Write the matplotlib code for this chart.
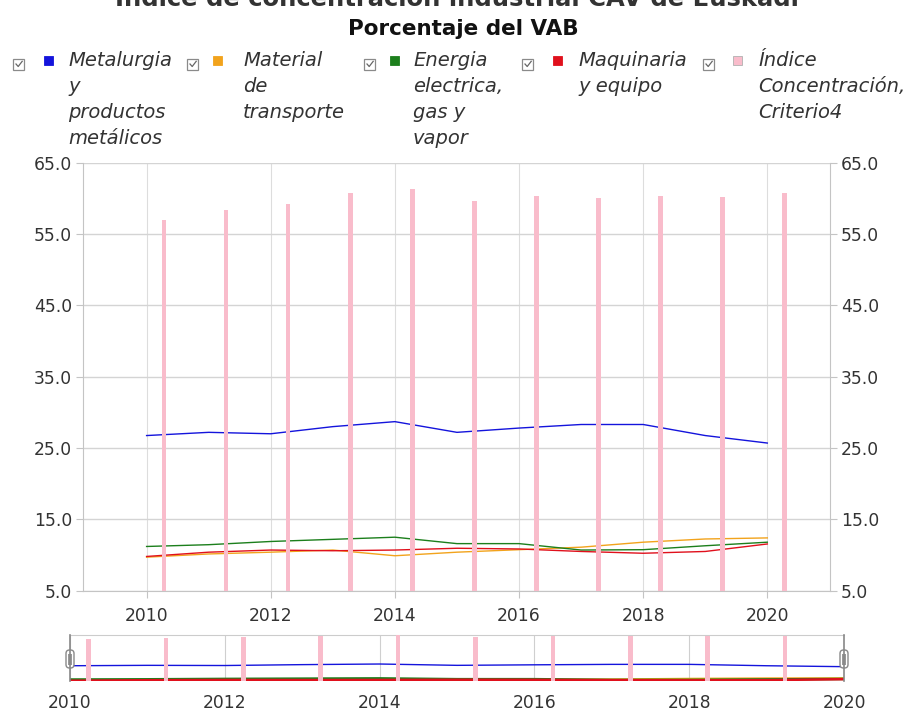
import numpy as np
import matplotlib
matplotlib.use('Agg')
import matplotlib.pyplot as plt
from matplotlib.patches import Rectangle, FancyBboxPatch
from matplotlib.ticker import FormatStrFormatter

# Data (porcentaje del VAB)
years = [2010, 2011, 2012, 2013, 2014, 2015, 2016, 2017, 2018, 2019, 2020]
metalurgia = [26.75, 27.2, 27.0, 28.0, 28.7, 27.2, 27.8, 28.3, 28.3, 26.75, 25.7]
transporte = [9.7, 10.15, 10.4, 10.7, 9.9, 10.4, 10.75, 11.1, 11.8, 12.25, 12.4]
energia = [11.2, 11.45, 11.9, 12.2, 12.5, 11.6, 11.6, 10.7, 10.75, 11.3, 11.8]
maquinaria = [9.8, 10.4, 10.7, 10.6, 10.7, 10.95, 10.85, 10.5, 10.25, 10.5, 11.55]
indice_c4 = [56.9, 58.4, 59.25, 60.8, 61.3, 59.6, 60.4, 60.1, 60.4, 60.2, 60.75]

legend_labels = ["Metalurgia\ny\nproductos\nmetálicos",
                 "Material\nde\ntransporte",
                 "Energia\nelectrica,\ngas y\nvapor",
                 "Maquinaria\ny equipo",
                 "Índice\nConcentración,\nCriterio4"]
colors = ['#1414dc', '#f2a31c', '#1c7f1c', '#e0101c', '#f9bccb']
line_series = [metalurgia, transporte, energia, maquinaria]

title_cut = "Índice de concentración industrial CAV de Euskadi"
title = "Porcentaje del VAB"

plt.rcParams['font.family'] = ['DejaVu Sans']
W, H = 912, 713
fig = plt.figure(figsize=(W / 100, H / 100), dpi=100)
fig.patch.set_facecolor('white')

# ---- main chart
ax = fig.add_axes([83.3 / W, 1 - 590.7 / H, (830 - 83.3) / W, (590.7 - 162.7) / H])
for s, c in zip(line_series, colors[:4]):
    ax.plot(years, s, color=c, lw=1.0, zorder=3)
ax.bar(np.array(years) + 0.28, indice_c4, width=0.075, bottom=0, color=colors[4], zorder=4)

ax.set_xlim(2008.98, 2021.01)
ax.set_ylim(5, 65)
ax.set_yticks(np.arange(5, 66, 10))
ax.yaxis.set_major_formatter(FormatStrFormatter('%.1f'))
ax.set_xticks(np.arange(2010, 2021, 2))
ax.yaxis.grid(True, color='#d4d4d4', lw=1.0)
ax.xaxis.grid(True, color='#dddddd', lw=0.8)
ax.set_axisbelow(True)
ax.tick_params(axis='y', left=True, right=True, labelleft=True, labelright=True,
               length=5, color='#c4c4c4', labelsize=12.3, labelcolor='#333333', pad=3)
ax.tick_params(axis='x', length=5, color='#c4c4c4', labelsize=12.3, labelcolor='#333333', pad=6.5)
ax.spines['top'].set_visible(False)
for sp in ['left', 'right', 'bottom']:
    ax.spines[sp].set_color('#c4c4c4')

# ---- navigator
nav = fig.add_axes([70 / W, 1 - 681 / H, 774 / W, 46 / H])
for s, c in zip(line_series, colors[:4]):
    nav.plot(years, s, color=c, lw=1.8 if c != colors[0] else 1.0, zorder=3)
nav.bar(np.array(years) + 0.24, indice_c4, width=0.06, bottom=0, color=colors[4], zorder=4)
nav.set_xlim(2010, 2020)
nav.set_ylim(9.5, 61.5)
nav.set_yticks([])
nav.set_xticks(np.arange(2010, 2021, 2))
nav.xaxis.grid(True, color='#cfcfcf', lw=0.8)
nav.set_axisbelow(True)
nav.tick_params(axis='x', length=0, labelsize=12.3, labelcolor='#333333', pad=9.5)
for sp in ['left', 'right', 'bottom']:
    nav.spines[sp].set_visible(False)
nav.spines['top'].set_color('#cccccc')

# ---- overlay in pixel coordinates for titles, legend and handles
ov = fig.add_axes([0, 0, 1, 1])
ov.set_xlim(0, W)
ov.set_ylim(H, 0)
ov.axis('off')

ov.text(457, 6, title_cut, ha='center', va='baseline', fontsize=17.5,
        fontweight='bold', color='#333333')
ov.text(463, 35, title, ha='center', va='baseline', fontsize=15.5,
        fontweight='bold', color='#111111')

check_x = [19, 193, 370, 528, 709]
square_x = [49, 218, 395, 558, 738]
text_x = [68, 243, 413, 578, 758]
for i, lab in enumerate(legend_labels):
    cx = check_x[i]
    ov.add_patch(Rectangle((cx - 5.5, 58.5), 11, 11, fill=False, ec='#8a8a8a', lw=0.9))
    ov.plot([cx - 3, cx - 0.8, cx + 3.2], [64, 66.5, 61.3], color='#666666', lw=0.9)
    ec = '#b0b0b0' if i == 4 else colors[i]
    ov.add_patch(Rectangle((square_x[i] - 4.5, 56), 9, 9, fc=colors[i], ec=ec, lw=0.6))
    for j, line in enumerate(lab.split('\n')):
        ov.text(text_x[i], 66 + 26 * j, line, ha='left', va='baseline', fontsize=14,
                fontstyle='italic', color='#333333')

for hx in [70, 844]:
    ov.plot([hx, hx], [635, 681], color='#888888', lw=1.2)
    ov.add_patch(FancyBboxPatch((hx - 4, 650), 8, 18, boxstyle='round,pad=0,rounding_size=3.5',
                                fc='white', ec='#888888', lw=1.0))
    ov.add_patch(Rectangle((hx - 1.7, 653.5), 3.4, 11, fc='#999999', ec='none'))

fig.savefig('out.png', dpi=100)
